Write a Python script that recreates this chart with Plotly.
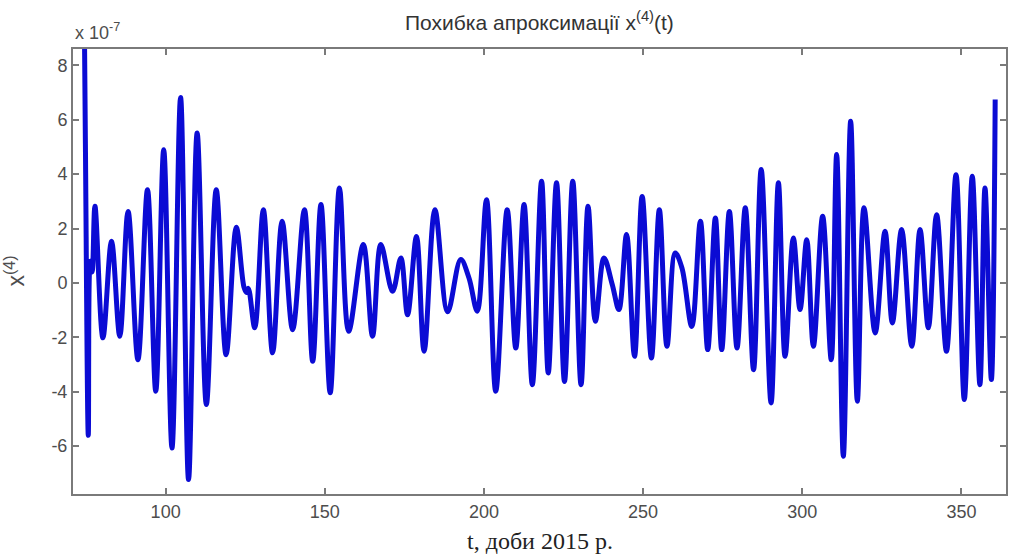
import plotly.graph_objects as go

# Turning points of the 4th-derivative approximation error, day of year 2015
t_days = [
    74.4, 74.8, 75.7, 76.3, 76.9, 77.8, 80.3, 83.0, 85.6, 88.2,
    91.3, 94.3, 96.9, 99.4, 102.0, 104.7, 107.2, 109.9, 112.8, 115.9,
    119.0, 122.2, 124.6, 125.4, 126.0, 128.0, 130.7, 133.6, 136.6, 139.9,
    143.6, 146.2, 148.8, 151.7, 154.6, 157.5, 162.1, 165.0, 167.6, 171.3,
    173.9, 176.0, 178.8, 181.2, 184.6, 188.6, 192.7, 195.3, 197.9, 200.8,
    203.7, 207.3, 210.0, 212.6, 215.2, 218.1, 220.2, 222.8, 225.3, 227.9,
    230.5, 232.7, 235.0, 237.7, 240.3, 242.4, 244.8, 247.3, 249.7, 252.6,
    255.1, 257.5, 260.1, 262.2, 265.3, 268.0, 270.3, 272.7, 274.7, 277.1,
    279.5, 282.1, 284.7, 287.1, 290.2, 292.5, 294.6, 297.2, 299.3, 301.4,
    303.5, 306.4, 309.1, 310.8, 312.9, 315.2, 317.3, 319.4, 322.9, 326.0,
    328.3, 331.2, 334.4, 337.0, 339.6, 342.2, 345.3, 348.3, 350.9, 353.4,
    355.8, 357.4, 359.4, 360.6,
]

# Error values in units of 1e-7
err_e7 = [
    10.5, 5.1, -5.6, 0.8, 0.4, 2.82, -2.02, 1.53, -1.96, 2.63,
    -2.82, 3.43, -3.98, 4.90, -6.07, 6.82, -7.23, 5.51, -4.47, 3.43,
    -2.64, 2.05, -0.15, -0.35, -0.2, -1.65, 2.69, -2.57, 2.27, -1.72,
    2.69, -2.88, 2.88, -4.04, 3.49, -1.78, 1.41, -1.96, 1.41, -0.31,
    0.92, -1.17, 1.71, -2.51, 2.69, -1.06, 0.86, 0.18, -1.04, 3.06,
    -3.98, 2.69, -2.39, 2.88, -3.74, 3.74, -3.31, 3.68, -3.62, 3.74,
    -3.74, 2.82, -1.41, 0.92, -0.06, -0.98, 1.78, -2.70, 3.18, -2.76,
    2.69, -2.33, 1.10, 0.55, -1.60, 2.27, -2.45, 2.39, -2.45, 2.63,
    -2.39, 2.76, -3.19, 4.17, -4.41, 3.68, -2.70, 1.65, -0.98, 1.59,
    -2.33, 2.45, -2.82, 4.72, -6.37, 5.94, -4.35, 2.76, -1.84, 1.90,
    -1.47, 1.96, -2.33, 1.96, -1.65, 2.51, -2.51, 3.98, -4.29, 3.92,
    -3.74, 3.49, -3.55, 6.74,
]

x_ticks = [100, 150, 200, 250, 300, 350]
y_ticks = [-6, -4, -2, 0, 2, 4, 6, 8]
y_tick_text = [str(v) for v in y_ticks]  # plain hyphen minus signs

AXIS_GREY = "#7a7a7a"
LABEL_GREY = "#4d4d4d"
SANS = "Liberation Sans, Arial, sans-serif"

fig = go.Figure()
fig.add_trace(go.Scatter(
    x=t_days, y=err_e7, mode="lines",
    line=dict(color="#0b0bd4", width=5, shape="spline", smoothing=1.0),
    hoverinfo="x+y", showlegend=False,
))

axis_common = dict(
    showgrid=False, zeroline=False, showline=True, linecolor=AXIS_GREY,
    linewidth=2, mirror="allticks", ticks="inside", ticklen=6,
    tickcolor=AXIS_GREY, tickwidth=1.5,
    tickfont=dict(family=SANS, size=18, color=LABEL_GREY),
)

fig.update_xaxes(range=[70.9, 364.0], tickvals=x_ticks, **axis_common)
fig.update_yaxes(range=[-7.76, 8.60], tickvals=y_ticks, ticktext=y_tick_text, **axis_common)

fig.update_layout(
    width=1011, height=555,
    margin=dict(l=73, r=3, t=49, b=61),
    paper_bgcolor="white", plot_bgcolor="white",
    annotations=[
        dict(text="Похибка апроксимації x<sup>(4)</sup>(t)", xref="paper", yref="paper",
             x=0.5, y=1.0, xanchor="center", yanchor="bottom", yshift=13, showarrow=False,
             font=dict(family=SANS, size=21, color="#333333")),
        dict(text="x 10<sup>-7</sup>", xref="paper", yref="paper",
             x=0.0, y=1.0, xanchor="left", yanchor="bottom", yshift=4, showarrow=False,
             font=dict(family=SANS, size=18, color=LABEL_GREY)),
        dict(text="t, доби 2015 р.", xref="paper", yref="paper",
             x=0.5, y=0.0, xanchor="center", yanchor="top", yshift=-32, showarrow=False,
             font=dict(family="Liberation Serif, Times New Roman, serif", size=24, color="#222222")),
        dict(text="x<sup>(4)</sup>", xref="paper", yref="paper", textangle=-90,
             x=0.0, y=0.5, xanchor="right", yanchor="middle", xshift=-42, showarrow=False,
             font=dict(family=SANS, size=23, color=LABEL_GREY)),
    ],
)

fig.write_html("out.html")
